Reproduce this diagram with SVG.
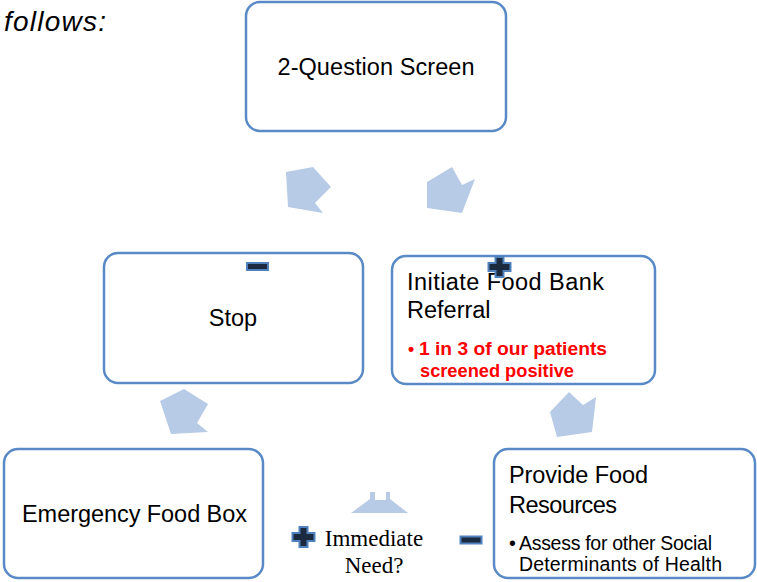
<svg xmlns="http://www.w3.org/2000/svg" width="757" height="582" viewBox="0 0 757 582">
<style>
.box{fill:#fff;stroke:#5a8ac6;stroke-width:2.5}
.t{font-family:"Liberation Sans",Arial,sans-serif;fill:#000}
.big{font-size:23.5px}
.small{font-size:19.5px}
.red{font-family:"Liberation Sans",Arial,sans-serif;font-size:17.5px;font-weight:bold;fill:#ff0000}
.arr{fill:#b7cbe7}
.ic{fill:#1c2a3f;stroke:#4f81bd;stroke-width:2}
.serif{font-family:"Liberation Serif","Times New Roman",serif;font-size:23px;fill:#000}
</style>
<defs>
<path id="plus" d="M-4,-10H4V-4H11V4H4V10H-4V4H-11V-4H-4Z"/>
<rect id="minus" x="-10.5" y="-3.5" width="21" height="7"/>
</defs>
<rect width="757" height="582" fill="#fff"/>
<text class="t" x="4" y="31" font-size="28" font-style="italic" textLength="102">follows:</text>

<g id="connectors">
<polygon class="arr" points="286,172 313,167 331,187 315,203 323,213 288,207"/>
<polygon class="arr" points="427,182 452,167 462,185 475,179 462,213 427,208"/>
<polygon class="arr" points="160,401 184,389 208,404 197,423 208,432 171,434"/>
<polygon class="arr" points="550,412 569,392 583,405 596,397 592,432 557,437"/>
<polygon class="arr" points="351,513 370,499 370,492 375,492 375,500 386,500 386,492 390,492 390,499 408,513"/>
<use href="#plus" class="ic" x="303.5" y="537"/>
<use href="#minus" class="ic" x="471" y="540"/>
<text class="serif" x="374" y="546" text-anchor="middle">Immediate</text>
<text class="serif" x="374" y="573" text-anchor="middle">Need?</text>
</g>

<g id="screen">
<rect class="box" x="246" y="2" width="260" height="129" rx="14"/>
<text class="t big" x="376" y="75" text-anchor="middle" textLength="197">2-Question Screen</text>
</g>

<g id="stop">
<rect class="box" x="104" y="253" width="259" height="130" rx="14"/>
<text class="t big" x="233" y="326" text-anchor="middle">Stop</text>
<use href="#minus" class="ic" x="257.5" y="266.5"/>
</g>

<g id="referral">
<rect class="box" x="392" y="256" width="263" height="128" rx="14"/>
<text class="t big" x="407" y="290" textLength="197">Initiate Food Bank</text>
<text class="t big" x="407" y="318">Referral</text>
<text class="red" x="408" y="355">•</text>
<text class="red" x="419" y="355" textLength="188" lengthAdjust="spacingAndGlyphs">1 in 3  of our patients</text>
<text class="red" x="420" y="377" textLength="154" lengthAdjust="spacingAndGlyphs">screened positive</text>
<use href="#plus" class="ic" x="499.5" y="267"/>
</g>

<g id="emergency">
<rect class="box" x="4" y="449" width="259" height="129" rx="14"/>
<text class="t big" x="22" y="522" textLength="225">Emergency Food Box</text>
</g>

<g id="provide">
<rect class="box" x="494" y="449" width="261" height="129" rx="14"/>
<text class="t big" x="509" y="483" textLength="139">Provide Food</text>
<text class="t big" x="509" y="513" textLength="108">Resources</text>
<text class="t small" x="509" y="550">•</text>
<text class="t small" x="519" y="550" textLength="193">Assess for other Social</text>
<text class="t small" x="519" y="571" textLength="203">Determinants of Health</text>
</g>
</svg>
